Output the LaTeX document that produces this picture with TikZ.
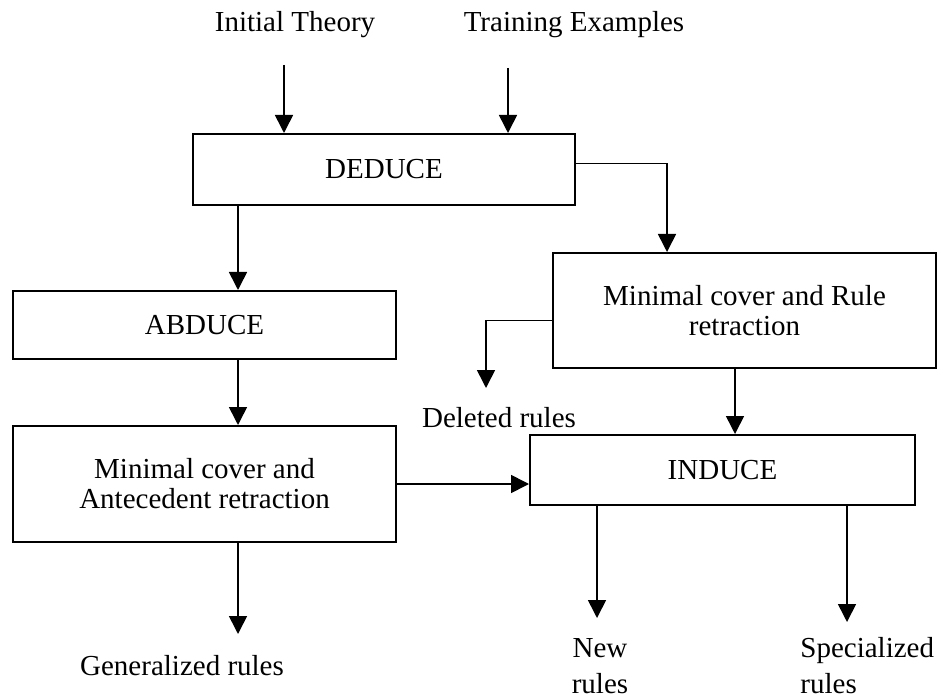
\documentclass[tikz,border=0pt]{standalone}
\usepackage{fontspec}
\setmainfont{Liberation Serif}
\usetikzlibrary{arrows.meta}
\newcommand{\fsz}{\fontsize{14.5}{15}\selectfont}

\begin{document}
\begin{tikzpicture}[x=0.5pt,y=-0.5pt,
  box/.style={draw, line width=1pt, inner sep=0pt, align=center, font=\fsz},
  lbl/.style={inner sep=0pt, font=\fsz},
  arr/.style={line width=0.8pt, -{Triangle[width=9pt,length=9pt]}}]
\useasboundingbox (0,0) rectangle (945,699);

% Inputs on top
\node[lbl] (theory) at (295,25) {Initial Theory};
\node[lbl] (examples) at (574,25) {Training Examples};

% Boxes
\node[box, minimum width=191pt, minimum height=35.5pt] (deduce) at (384,169.5) {DEDUCE};
\node[box, minimum width=191.5pt, minimum height=34pt] (abduce) at (204.5,325) {ABDUCE};
\node[box, minimum width=191.5pt, minimum height=57.5pt] (rulebox) at (744.5,310.5) {Minimal cover and Rule\\retraction};
\node[box, minimum width=191.5pt, minimum height=58pt] (antebox) at (204.5,484) {Minimal cover and\\Antecedent retraction};
\node[box, minimum width=192.5pt, minimum height=35pt] (induce) at (722.5,470) {INDUCE};

% Outputs
\node[lbl] (deleted) at (499,418) {Deleted rules};
\node[lbl] (general) at (182,666) {Generalized rules};
\node[lbl, align=center] (newrules) at (600,666) {New\\[3pt]rules};
\node[lbl, align=left, anchor=west] (special) at (800,666) {Specialized\\[3pt]rules};

% Free ends and lanes
\coordinate (theoryout) at (284,65);
\coordinate (examplesout) at (508,68);
\coordinate (deletedin) at (486,388);
\coordinate (generalin) at (238,634);
\coordinate (newin) at (597,618);
\coordinate (specialin) at (847,622);
\coordinate (leftlane) at (238,0);
\coordinate (rightlane) at (667,0);
\coordinate (midlane) at (735,0);

% Arrows
\draw[arr] (theoryout) -- (theoryout |- deduce.north);
\draw[arr] (examplesout) -- (examplesout |- deduce.north);
\draw[arr] (deduce.south -| leftlane) -- (abduce.north -| leftlane);
\draw[arr] (abduce.south -| leftlane) -- (antebox.north -| leftlane);
\draw[arr] (antebox.south -| leftlane) -- (generalin);
\draw[arr] ([yshift=3pt]deduce.east) -| (rulebox.north -| rightlane);
\draw[arr] ([yshift=-5pt]rulebox.west) -| (deletedin);
\draw[arr] (rulebox.south -| midlane) -- (induce.north -| midlane);
\draw[arr] (antebox.east) -- (antebox.east -| induce.west);
\draw[arr] (induce.south -| newin) -- (newin);
\draw[arr] (induce.south -| specialin) -- (specialin);

\end{tikzpicture}
\end{document}
